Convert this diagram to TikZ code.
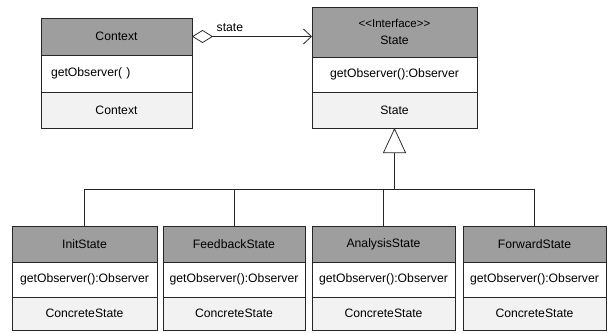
\documentclass[tikz,border=0pt]{standalone}
\usepackage{fontspec}
\setmainfont{Liberation Sans}
\usetikzlibrary{arrows.meta}

\begin{document}
\begin{tikzpicture}[x=1pt, y=-1pt,
  txt/.style={font=\fontsize{12.2}{14}\selectfont, text=black},
  cls/.style={txt, draw=black!85, line width=0.75pt, inner sep=0pt, outer sep=0pt,
    anchor=north west},
  hdr/.style={cls, fill=black!38},
  mth/.style={cls, fill=white},
  ftr/.style={cls, fill=black!5},
  line/.style={draw=black!85, line width=0.75pt},
  agg/.style={line, {Diamond[open, length=21pt, width=13pt]}-{Straight Barb[length=8pt, width=15pt, line width=0.8pt]}},
  gen/.style={line, -{Triangle[open, length=25pt, width=23pt, fill=white]}},
]
\useasboundingbox (0,0) rectangle (612,332);

% Context class
\node[hdr, minimum width=151pt, minimum height=37pt] (ctxh) at (41,18) {Context};
\node[mth, minimum height=37pt, text width=131pt, inner xsep=10pt, align=left] (ctxm) at (41,55) {getObserver( )};
\node[ftr, minimum width=151pt, minimum height=36pt] (ctxb) at (41,92) {Context};

% State interface
\node[hdr, minimum width=165pt, minimum height=50pt, align=center] (sth) at (312,7)
  {{\fontsize{11.5}{13}\selectfont <\kern0pt<Interface>\kern0pt>}\\[3pt]State};
\node[mth, minimum width=165pt, minimum height=35pt] (stm) at (312,57) {getObserver():Observer};
\node[ftr, minimum width=165pt, minimum height=36pt] (stb) at (312,92) {State};

% Concrete states
\foreach \nm/\x/\w/\title in {init/12/145/InitState, feed/163/142/FeedbackState,
    ana/312/143/AnalysisState, fwd/463/143/ForwardState} {
  \node[hdr, minimum width=\w pt, minimum height=36pt] (\nm h) at (\x,226) {\title};
  \node[mth, minimum width=\w pt, minimum height=35pt] (\nm m) at (\x,262) {getObserver():Observer};
  \node[ftr, minimum width=\w pt, minimum height=33pt] (\nm b) at (\x,297) {ConcreteState};
}

% Aggregation Context -> State
\draw[agg] (ctxh.east) -- (ctxh.east -| sth.west)
  node[txt, pos=0, above right, xshift=21pt, yshift=1pt] {state};

% Generalization
\path (stb.south) ++(0,61) coordinate (bus);
\draw[gen] (bus) -- (stb.south);
\foreach \nm in {init, feed, ana, fwd}
  \draw[line] (bus) -| (\nm h.north);
\end{tikzpicture}
\end{document}
